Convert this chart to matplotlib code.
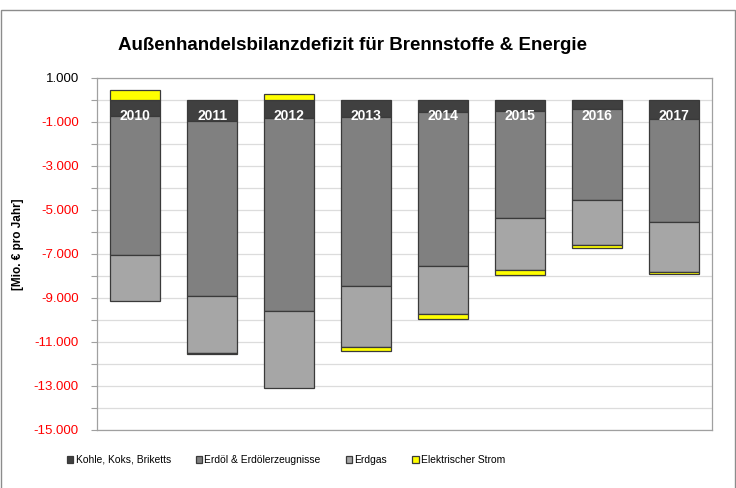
import numpy as np
import matplotlib
matplotlib.use('Agg')
import matplotlib.pyplot as plt
from matplotlib.patches import Rectangle
from matplotlib.ticker import FixedLocator

plt.rcParams['font.family'] = ['Liberation Sans', 'DejaVu Sans']

# data (Mio. EUR pro Jahr)
years = ['2010', '2011', '2012', '2013', '2014', '2015', '2016', '2017']
kohle = [-710, -940, -805, -760, -560, -490, -420, -860]
erdoel = [-6340, -7950, -8785, -7710, -6970, -4860, -4125, -4670]
erdgas = [-2090, -2620, -3480, -2770, -2210, -2380, -2045, -2270]
strom = [450, -40, 270, -150, -230, -240, -150, -120]
series = ['Kohle, Koks, Briketts', 'Erdöl & Erdölerzeugnisse', 'Erdgas', 'Elektrischer Strom']
colors = ['#404040', '#808080', '#a6a6a6', '#ffff00']
yticks_major = [1000, -1000, -3000, -5000, -7000, -9000, -11000, -13000, -15000]
yticks_minor = [0, -2000, -4000, -6000, -8000, -10000, -12000, -14000]

fig = plt.figure(figsize=(7.36, 4.88), dpi=100)
ax = fig.add_axes([97/736, 1-430/488, 615/736, 352/488])

x = np.arange(len(years))
pos_base = np.zeros(len(years))
neg_base = np.zeros(len(years))
handles = []
for vals, name, c in zip([kohle, erdoel, erdgas, strom], series, colors):
    v = np.array(vals, dtype=float)
    bottom = np.where(v >= 0, pos_base, neg_base)
    b = ax.bar(x, v, bottom=bottom, width=0.65, color=c, edgecolor='#3a3a3a',
               linewidth=0.9, label=name, zorder=3)
    handles.append(b)
    pos_base += np.where(v >= 0, v, 0)
    neg_base += np.where(v < 0, v, 0)

for i, y in enumerate(years):
    ax.text(i, -720, y, ha='center', va='center', color='white',
            fontsize=10, fontweight='bold', zorder=5)

ax.set_xlim(-0.5, 7.5)
ax.set_ylim(-15000, 1000)
ax.yaxis.set_major_locator(FixedLocator(yticks_major))
ax.yaxis.set_minor_locator(FixedLocator(yticks_minor))
ax.set_yticklabels([f'{v:,.0f}'.replace(',', '.') for v in yticks_major], fontsize=9.5)
for lab, v in zip(ax.get_yticklabels(), yticks_major):
    lab.set_color('#ff0000' if v < 0 else 'black')
ax.tick_params(axis='y', which='both', length=4, color='#a0a0a0', width=0.8, pad=9)
ax.set_xticks([])
ax.grid(True, axis='y', which='both', color='#dcdcdc', linewidth=0.9, zorder=0)
for s in ax.spines.values():
    s.set_color('#a0a0a0')
    s.set_linewidth(0.9)

ax.set_ylabel('[Mio. € pro Jahr]', fontsize=8.5, fontweight='bold')
ax.yaxis.set_label_coords(-73/615, (430-244)/352)

fig.text(352/736, 1-45/488, 'Außenhandelsbilanzdefizit für Brennstoffe & Energie',
         ha='center', va='center', fontsize=13.5, fontweight='bold')

fig.legend(handles=handles, labels=series, loc='center', ncol=4, frameon=False,
           bbox_to_anchor=(286/736, 1-460/488), handlelength=0.62, handleheight=0.7,
           handletextpad=0.2, columnspacing=2.45, borderpad=0, prop={'size': 7.4})

# outer chart frame
fig.patches.append(Rectangle((0.5/736, -0.05), 734/736, 1.05-10/488, transform=fig.transFigure,
                             fill=False, edgecolor='#8c8c8c', linewidth=1.0))

fig.savefig('out.png', dpi=100)
